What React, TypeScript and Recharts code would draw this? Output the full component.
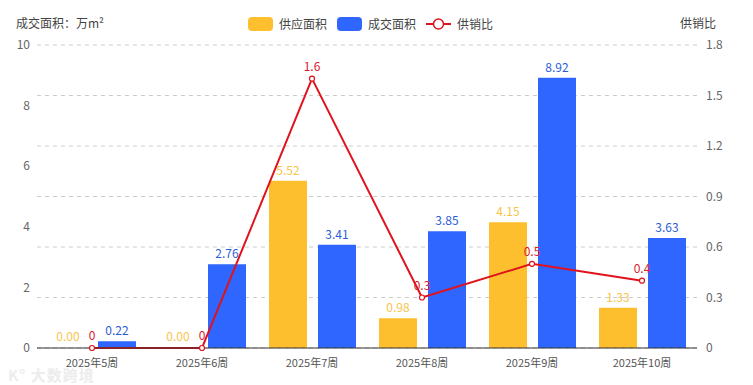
import React from 'react';
import { ComposedChart, Bar, Line, XAxis, YAxis, CartesianGrid, LabelList, Legend, Rectangle } from 'recharts';

const categories = ['2025年5周', '2025年6周', '2025年7周', '2025年8周', '2025年9周', '2025年10周'];
const supplyArea = [0, 0, 5.52, 0.98, 4.15, 1.33];
const dealArea = [0.22, 2.76, 3.41, 3.85, 8.92, 3.63];
const supplyRatio = [0, 0, 1.6, 0.3, 0.5, 0.4];
const leftTicks = [0, 2, 4, 6, 8, 10];
const rightTicks = [0, 0.3, 0.6, 0.9, 1.2, 1.5, 1.8];

const data = categories.map((c, i) => ({
  name: c,
  supply: supplyArea[i],
  deal: dealArea[i],
  ratio: supplyRatio[i],
}));

const FONT = '"Noto Sans CJK SC", "Noto Sans", sans-serif';
const YELLOW = '#FDBF2D';
const BLUE = '#2F66FF';
const RED = '#E0131C';

const LegendContent = () => (
  <div style={{ position: 'absolute', left: 248, top: 15, display: 'flex', alignItems: 'center', fontFamily: FONT, fontSize: 12, color: '#444', whiteSpace: 'nowrap' }}>
    <span style={{ display: 'inline-block', width: 25, height: 14, borderRadius: 4, background: YELLOW }} />
    <span style={{ marginLeft: 6, marginRight: 10 }}>供应面积</span>
    <span style={{ display: 'inline-block', width: 25, height: 14, borderRadius: 4, background: BLUE }} />
    <span style={{ marginLeft: 6, marginRight: 10 }}>成交面积</span>
    <svg width={25} height={14} style={{ display: 'inline-block' }}>
      <line x1={0} y1={7} x2={25} y2={7} stroke={RED} strokeWidth={2} />
      <circle cx={12.5} cy={7} r={5} fill="#fff" stroke={RED} strokeWidth={1.5} />
    </svg>
    <span style={{ marginLeft: 6 }}>供销比</span>
  </div>
);

const SupplyShape = (props: any) => {
  const v = props.supply ?? (props.payload ? props.payload.supply : 1);
  if (!v) return <g />;
  return <Rectangle {...props} />;
};

export default function App() {
  return (
    <div style={{ position: 'absolute', left: 0, top: 0, width: 753, height: 385, fontFamily: FONT }}>
      <div style={{ position: 'absolute', left: 16, top: 14, fontSize: 12, color: '#444' }}>成交面积：万m²</div>
      <div style={{ position: 'absolute', left: 680, top: 14, fontSize: 12, color: '#444' }}>供销比</div>
      <div style={{ position: 'absolute', left: 8, top: 366, fontSize: 15, lineHeight: '17px', color: '#ececec', fontWeight: 700, letterSpacing: 1 }}>K° 大数跨境</div>
      <ComposedChart
        width={753}
        height={385}
        data={data}
        margin={{ top: 45, right: 0, bottom: 0, left: 0 }}
        barGap={11}
        barSize={38}
        style={{ position: 'absolute', left: 0, top: 0 }}
      >
        <CartesianGrid yAxisId="right" vertical={false} stroke="#ccc" strokeDasharray="4 4" />
        <XAxis
          dataKey="name"
          height={37}
          tickLine={false}
          axisLine={{ stroke: '#333' }}
          tickMargin={5}
          tick={{ fontSize: 11, fill: '#555', fontFamily: FONT }}
          interval={0}
        />
        <YAxis
          yAxisId="left"
          orientation="left"
          width={37}
          domain={[0, 10]}
          ticks={leftTicks}
          axisLine={false}
          tickLine={false}
          tickSize={0}
          tickMargin={7}
          tick={{ fontSize: 12, fill: '#666', fontFamily: FONT }}
        />
        <YAxis
          yAxisId="right"
          orientation="right"
          width={56}
          domain={[0, 1.8]}
          ticks={rightTicks}
          axisLine={false}
          tickLine={false}
          tickSize={0}
          tickMargin={9}
          tick={{ fontSize: 12, fill: '#666', fontFamily: FONT }}
        />
        <Legend content={<LegendContent />} verticalAlign="top" wrapperStyle={{ top: 0, left: 0 }} />
        <Bar yAxisId="left" dataKey="supply" name="供应面积" fill={YELLOW} minPointSize={1} shape={SupplyShape} isAnimationActive={false}>
          <LabelList dataKey="supply" position="top" offset={6} formatter={(v: number) => Number(v).toFixed(2)} style={{ fill: '#F7C44C', fontSize: 12, fontFamily: FONT }} />
        </Bar>
        <Bar yAxisId="left" dataKey="deal" name="成交面积" fill={BLUE} isAnimationActive={false}>
          <LabelList dataKey="deal" position="top" offset={6} formatter={(v: number) => Number(v).toFixed(2)} style={{ fill: '#2C5DD6', fontSize: 12, fontFamily: FONT }} />
        </Bar>
        <Line
          yAxisId="right"
          dataKey="ratio"
          name="供销比"
          stroke={RED}
          strokeWidth={2}
          dot={{ r: 2.5, fill: '#fff', stroke: RED, strokeWidth: 1.2 }}
          activeDot={false}
          isAnimationActive={false}
        >
          <LabelList dataKey="ratio" position="top" offset={8} style={{ fill: '#D9202A', fontSize: 12, fontFamily: FONT }} />
        </Line>
      </ComposedChart>
    </div>
  );
}
